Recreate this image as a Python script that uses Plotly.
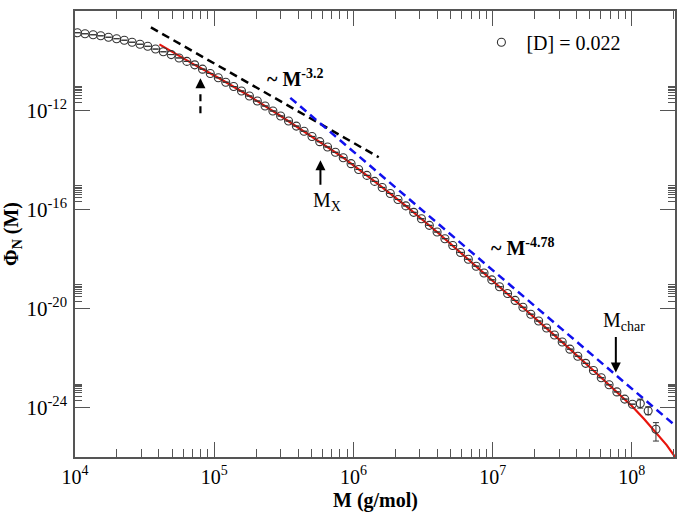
import plotly.graph_objects as go

# ---------------- data ----------------
M = [1.04e4, 1.18e4, 1.35e4, 1.53e4, 1.74e4, 1.99e4, 2.26e4, 2.57e4, 2.93e4, 3.33e4,
     3.79e4, 4.31e4, 4.91e4, 5.59e4, 6.36e4, 7.24e4, 8.24e4, 9.37e4, 1.07e5, 1.21e5,
     1.38e5, 1.57e5, 1.79e5, 2.04e5, 2.32e5, 2.64e5, 3.00e5, 3.42e5, 3.89e5, 4.42e5,
     5.04e5, 5.73e5, 6.52e5, 7.42e5, 8.45e5, 9.62e5, 1.09e6, 1.25e6, 1.42e6, 1.61e6,
     1.84e6, 2.09e6, 2.38e6, 2.71e6, 3.08e6, 3.51e6, 3.99e6, 4.54e6, 5.17e6, 5.88e6,
     6.69e6, 7.62e6, 8.67e6, 9.86e6, 1.12e7, 1.28e7, 1.45e7, 1.65e7, 1.88e7, 2.14e7,
     2.44e7, 2.78e7, 3.16e7, 3.59e7, 4.09e7, 4.66e7, 5.30e7, 6.03e7, 6.86e7, 7.81e7,
     8.89e7, 1.01e8, 1.15e8, 1.31e8, 1.49e8]
PHI = [1.33e-9, 1.21e-9, 1.10e-9, 1.00e-9, 8.75e-10, 7.64e-10, 6.64e-10, 5.51e-10, 4.57e-10, 3.78e-10,
       2.92e-10, 2.27e-10, 1.75e-10, 1.28e-10, 9.31e-11, 6.75e-11, 4.52e-11, 3.03e-11, 2.03e-11, 1.35e-11,
       8.99e-12, 5.94e-12, 3.73e-12, 2.34e-12, 1.48e-12, 9.29e-13, 5.85e-13, 3.66e-13, 2.29e-13, 1.42e-13,
       8.77e-14, 5.40e-14, 3.30e-14, 2.01e-14, 1.22e-14, 7.01e-15, 4.07e-15, 2.36e-15, 1.35e-15, 7.71e-16,
       4.40e-16, 2.51e-16, 1.39e-16, 7.64e-17, 4.22e-17, 2.28e-17, 1.23e-17, 6.62e-18, 3.50e-18, 1.85e-18,
       9.77e-19, 5.16e-19, 2.74e-19, 1.45e-19, 7.67e-20, 4.06e-20, 2.15e-20, 1.14e-20, 5.98e-21, 3.16e-21,
       1.66e-21, 8.65e-22, 4.51e-22, 2.33e-22, 1.21e-22, 6.25e-23, 3.21e-23, 1.65e-23, 8.51e-24, 4.40e-24,
       2.26e-24, 1.41e-24, 1.49e-24, 7.59e-25, 1.38e-25]
ERR_PLUS = [0.0] * 72 + [7.7e-25, 3.4e-25, 1.17e-25]
ERR_MINUS = [0.0] * 72 + [5.1e-25, 2.3e-25, 9.2e-26]

FIT_M = [4.04e4, 4.90e4, 5.62e4, 6.31e4, 7.24e4, 1.07e5, 1.79e5, 3.00e5, 5.04e5, 8.45e5,
         1.42e6, 2.38e6, 3.99e6, 6.69e6, 1.12e7, 1.88e7, 3.16e7, 5.30e7, 8.89e7, 1.00e8,
         1.22e8, 1.49e8, 1.78e8, 2.07e8]
FIT_PHI = [4.52e-10, 2.40e-10, 1.48e-10, 1.00e-10, 6.76e-11, 2.03e-11, 3.73e-12, 5.85e-13, 8.77e-14, 1.22e-14,
           1.35e-15, 1.39e-16, 1.23e-17, 9.77e-19, 7.67e-20, 5.98e-21, 4.51e-22, 3.21e-23, 2.26e-24, 1.20e-24,
           3.63e-25, 1.00e-25, 3.16e-26, 9.55e-27]

SLOPE1_M = [3.51e4, 1.52e6]          # ~ M^-3.2
SLOPE1_PHI = [2.19e-9, 1.27e-14]
SLOPE2_M = [3.52e5, 2.24e8]          # ~ M^-4.78
SLOPE2_PHI = [3.14e-12, 1.26e-25]

ARROW_M = [7.96e4, 7.96e4]           # dashed arrow shaft
ARROW_PHI = [7.57e-13, 6.45e-12]

X_TICKS = [1e4, 1e5, 1e6, 1e7, 1e8]
X_TICKTEXT = ["10<sup>4</sup>", "10<sup>5</sup>", "10<sup>6</sup>", "10<sup>7</sup>", "10<sup>8</sup>"]
Y_TICKS = [1e-8, 1e-12, 1e-16, 1e-20, 1e-24]
Y_TICKTEXT = ["10<sup>-8</sup>", "10<sup>-12</sup>", "10<sup>-16</sup>", "10<sup>-20</sup>", "10<sup>-24</sup>"]
X_MINOR = [k * 10.0 ** e for e in range(4, 9) for k in range(2, 10) if k * 10.0 ** e < 2.05e8]
Y_MINOR = [k * 10.0 ** e for e in (-12, -16, -20, -24) for k in range(2, 10)]

FONT = "Liberation Serif, Times New Roman, serif"
AX = "#555555"

fig = go.Figure()
fig.add_trace(go.Scatter(x=FIT_M, y=FIT_PHI, mode="lines", line=dict(color="#e8140c", width=2.2),
                         showlegend=False, hoverinfo="skip"))
fig.add_trace(go.Scatter(x=SLOPE1_M, y=SLOPE1_PHI, mode="lines",
                         line=dict(color="black", width=2.5, dash="8px,5px"), showlegend=False))
fig.add_trace(go.Scatter(x=SLOPE2_M, y=SLOPE2_PHI, mode="lines",
                         line=dict(color="#1010ee", width=2.5, dash="8px,5px"), showlegend=False))
fig.add_trace(go.Scatter(x=ARROW_M, y=ARROW_PHI, mode="lines",
                         line=dict(color="black", width=2.2, dash="7px,5px"), showlegend=False))
fig.add_trace(go.Scatter(
    x=M, y=PHI, mode="markers", name="[D] = 0.022",
    marker=dict(symbol="circle-open", size=8, color="#333333", line=dict(width=1.1)),
    error_y=dict(type="data", symmetric=False, array=ERR_PLUS, arrayminus=ERR_MINUS,
                 color="#333333", thickness=1, width=3),
))

axis_common = dict(
    type="log", showgrid=False, zeroline=False, showline=True, linecolor=AX, linewidth=1.5,
    mirror="allticks", ticks="inside", ticklen=15, tickwidth=1, tickcolor=AX,
    tickfont=dict(family=FONT, size=21, color="black"),
    tickmode="array",
)
fig.update_xaxes(**axis_common, range=[4, 8.31], tickvals=X_TICKS, ticktext=X_TICKTEXT,
                 ticklabelstandoff=1,
                 minor=dict(tickmode="array", tickvals=X_MINOR, ticks="inside", ticklen=8,
                            tickwidth=1, tickcolor=AX, showgrid=False))
fig.update_xaxes(tickfont=dict(family=FONT, size=20, color="black"))
fig.update_yaxes(**axis_common, range=[-25.98, -8], tickvals=Y_TICKS, ticktext=Y_TICKTEXT,
                 ticklabelstandoff=2,
                 minor=dict(tickmode="array", tickvals=Y_MINOR, ticks="inside", ticklen=7,
                            tickwidth=1, tickcolor=AX, showgrid=False),
                 title=dict(text="<b>Φ<sub>N</sub> (M)</b>", font=dict(family=FONT, size=20, color="black"), standoff=6))

ann_font = dict(family=FONT, size=20, color="black")
annotations = [
    # x axis title
    dict(xref="paper", yref="paper", x=0.5, y=-0.097, xanchor="center", yanchor="middle",
         text="<b>M (g/mol)</b>", showarrow=False, font=ann_font),
    dict(xref="paper", yref="paper", x=0.316, y=0.850, xanchor="left", yanchor="middle",
         text="<b>~ M<sup>-3.2</sup></b>", showarrow=False, font=ann_font),
    dict(xref="paper", yref="paper", x=0.690, y=0.471, xanchor="left", yanchor="middle",
         text="<b>~ M<sup>-4.78</sup></b>", showarrow=False, font=ann_font),
    dict(xref="paper", yref="paper", x=0.393, y=0.572, xanchor="left", yanchor="middle",
         text="M<sub>X</sub>", showarrow=False, font=ann_font),
    dict(xref="paper", yref="paper", x=0.877, y=0.303, xanchor="left", yanchor="middle",
         text="M<sub>char</sub>", showarrow=False, font=ann_font),
    # arrows (log10 coordinates on log axes)
    dict(xref="x", yref="y", x=4.901, y=-10.707, ax=0, ay=11, text="", showarrow=True,
         arrowhead=2, arrowwidth=2, arrowsize=1, arrowcolor="black"),
    dict(xref="x", yref="y", x=5.763, y=-14.02, ax=0, ay=26, text="", showarrow=True,
         arrowhead=2, arrowwidth=2, arrowsize=1, arrowcolor="black"),
    dict(xref="x", yref="y", x=7.885, y=-22.574, ax=0, ay=-37, text="", showarrow=True,
         arrowhead=2, arrowwidth=2, arrowsize=1, arrowcolor="black"),
]

fig.update_layout(
    width=680, height=513,
    margin=dict(l=75, r=5, t=11, b=56, autoexpand=False),
    paper_bgcolor="white", plot_bgcolor="white",
    font=dict(family=FONT, size=20, color="black"),
    showlegend=True,
    legend=dict(x=0.669, y=0.93, xanchor="left", yanchor="middle", bgcolor="rgba(0,0,0,0)",
                font=dict(family=FONT, size=20, color="black"), itemwidth=40),
    annotations=annotations,
)

fig.write_html("out.html")
